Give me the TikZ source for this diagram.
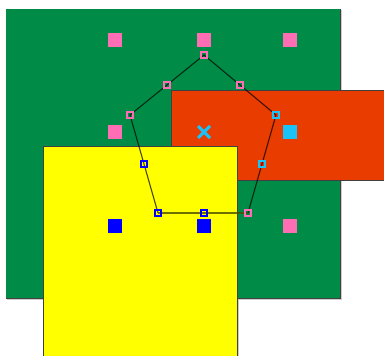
\documentclass[tikz,border=0pt]{standalone}
\begin{document}
\begin{tikzpicture}[x=1pt,y=-1pt,
  rectbox/.style={draw=black!75,line width=0.8pt},
  shadowbox/.style={draw=black!20,line width=1pt},
  bigsq/.style={minimum size=14pt,inner sep=0pt,outer sep=0pt},
  handle/.style={draw=#1,line width=1.1pt,minimum size=6pt,inner sep=0pt,outer sep=0pt},
  edge/.style={draw=black,opacity=0.7,line width=1.1pt}]
\definecolor{cgreen}{RGB}{0,140,70}
\definecolor{corange}{RGB}{232,60,0}
\definecolor{cyel}{RGB}{255,255,0}
\definecolor{cpink}{RGB}{255,110,180}
\definecolor{ccyan}{RGB}{25,195,250}
\definecolor{cblue}{RGB}{0,0,255}
\useasboundingbox (0,0) rectangle (384,356);
\fill[white] (0,0) rectangle (384,356);
% shadows
\draw[shadowbox] (7,10) rectangle (341,299);
\draw[shadowbox] (44,147) rectangle (238,360);
% rectangles
\fill[cgreen] (6,9) rectangle (340,298);
\draw[rectbox] (340,9) -- (340,298) -- (6,298);
\filldraw[rectbox,fill=corange] (390,90) -- (171,90) -- (171,180) -- (390,180);
\filldraw[rectbox,fill=cyel] (43,360) -- (43,146) -- (237,146) -- (237,360);
% big markers
\node[bigsq,fill=cpink] (p1) at (115,40) {};
\node[bigsq,fill=cpink] (p2) at (204,40) {};
\node[bigsq,fill=cpink] (p3) at (290,40) {};
\node[bigsq,fill=cpink] (p4) at (115,132) {};
\node[bigsq] (x5) at (204,132) {};
\draw[ccyan,line width=3pt] (x5.north west) ++(1,1) -- ([shift={(-1,-1)}]x5.south east);
\draw[ccyan,line width=3pt] (x5.north east) ++(-1,1) -- ([shift={(1,-1)}]x5.south west);
\node[bigsq,fill=ccyan] (p6) at (290,132) {};
\node[bigsq,fill=cblue] (p7) at (115,226) {};
\node[bigsq,fill=cblue] (p8) at (204,226) {};
\node[bigsq,fill=cpink] (p9) at (290,226) {};
% pentagon vertices
\coordinate (va) at (204,55);
\coordinate (vb) at (130,115);
\coordinate (vc) at (158,213);
\coordinate (vd) at (248,213);
\coordinate (ve) at (276,115);
\draw[edge] (va) -- (vb) -- (vc);
\draw[edge] (vd) -- (ve) -- (va);
\draw[draw=black!70!cyel,line width=2.2pt,opacity=0.8] (vc) -- (vd);
% handles
\node[handle=cpink] (ha) at (va) {};
\node[handle=cpink] (hb) at (vb) {};
\node[handle=cblue] (hc) at (vc) {};
\node[handle=cpink] (hd) at (vd) {};
\node[handle=ccyan] (he) at (ve) {};
\node[handle=cpink] (mab) at (167,85) {};
\node[handle=cblue] (mbc) at (144,164) {};
\node[handle=cblue] (mcd) at (204,213) {};
\node[handle=ccyan] (mde) at (262,164) {};
\node[handle=cpink] (mea) at (240,85) {};
\end{tikzpicture}
\end{document}
